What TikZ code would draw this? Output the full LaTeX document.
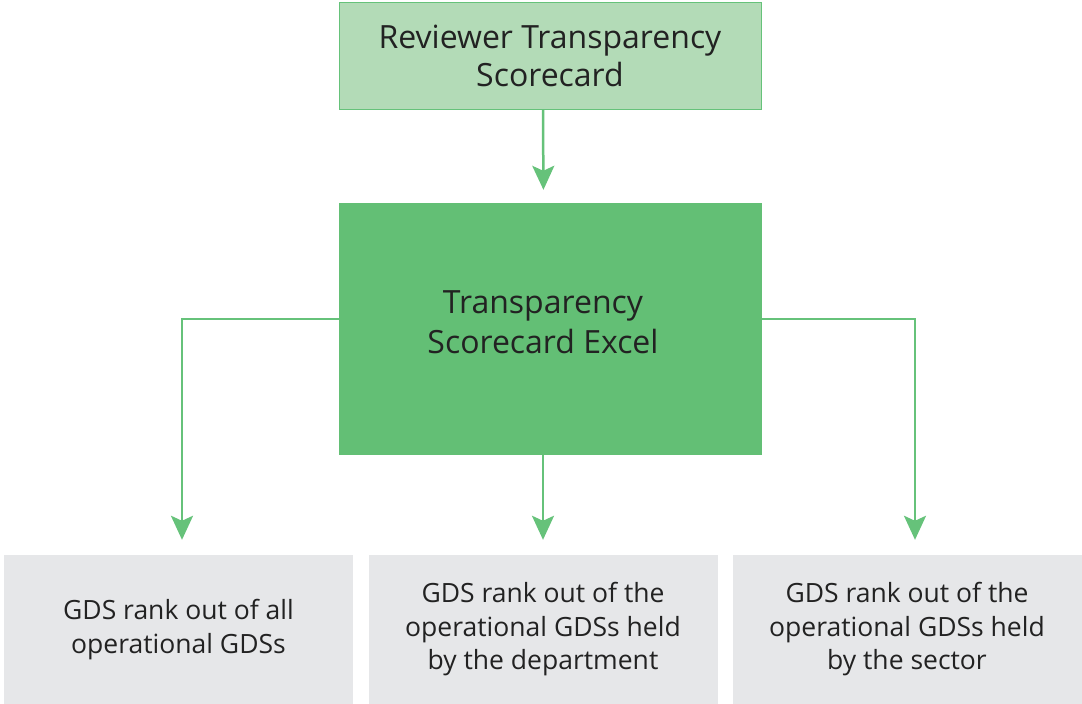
\documentclass[tikz,border=0pt]{standalone}
\usepackage{fontspec}
\setmainfont{Open Sans}
\usetikzlibrary{arrows.meta}
\definecolor{paleGreen}{HTML}{B3DBB7}
\definecolor{midGreen}{HTML}{63BF75}
\definecolor{lineGreen}{HTML}{66C27A}
\definecolor{rankGrey}{HTML}{E6E7E9}
\definecolor{textGrey}{HTML}{222222}

\begin{document}
\begin{tikzpicture}[x=1pt,y=-1pt,
  every node/.style={align=center,text=textGrey,inner sep=0pt},
  scorecard/.style={draw=lineGreen,line width=1pt,fill=paleGreen,minimum width=422pt,minimum height=107pt,font=\fontsize{32}{38}\selectfont},
  excel/.style={fill=midGreen,minimum width=423pt,minimum height=252pt},
  excel text/.style={font=\fontsize{32}{40}\selectfont},
  rank/.style={fill=rankGrey,minimum width=349pt,minimum height=149pt,font=\fontsize{26.5}{33.5}\selectfont},
  to/.style={-{Stealth[length=24pt,width=22pt,inset=5pt]},line width=2.5pt,draw=lineGreen}]

  \useasboundingbox (0,0) rectangle (1082,704);

  \node[scorecard] (review) at (550,55.5) {Reviewer Transparency\\Scorecard};
  \node[excel] (excel) at (550.5,329) {};
  \node[excel text] (excelLabel) at (543,322) {Transparency\\Scorecard Excel};
  \node[rank] (all) at (178.5,629.5) {GDS rank out of all\\operational GDSs};
  \node[rank] (dept) at (543,629.5) {GDS rank out of the\\operational GDSs held\\by the department};
  \node[rank] (sector) at (907,629.5) {GDS rank out of the\\operational GDSs held\\by the sector};

  \draw[to,shorten >=13pt] ([xshift=-7pt]review.south) -- ([xshift=-7pt]excel.north);
  \draw[to,shorten >=15pt] ([yshift=10pt]excel.west) -| ([xshift=3.5pt]all.north);
  \draw[to,shorten >=15pt] (excel.south -| dept.north) -- (dept.north);
  \draw[to,shorten >=15pt] ([yshift=10pt]excel.east) -| ([xshift=8pt]sector.north);
\end{tikzpicture}
\end{document}
